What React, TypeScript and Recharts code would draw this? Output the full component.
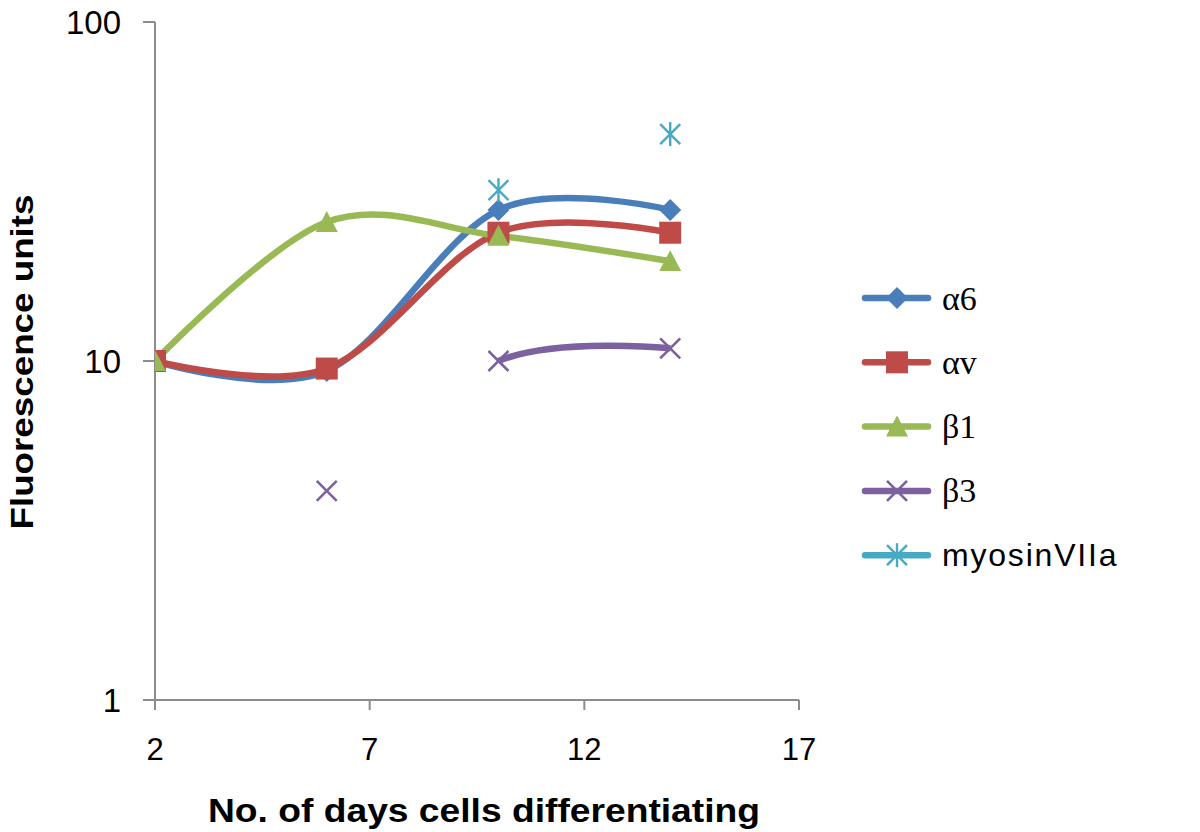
import React from 'react';
import { LineChart, Line, XAxis, YAxis } from 'recharts';

const days = [2, 6, 10, 14];
const alpha6 = [10, 9.35, 27.9, 27.9];
const alphaV = [10, 9.5, 23.9, 23.9];
const beta1 = [10, 25.7, 23.4, 19.7];
const beta3 = [null, 4.14, 10, 10.9];
const myosin = [null, null, 31.9, 46.7];

const xTicks = [2, 7, 12, 17];
const yTicks = [1, 10, 100];

const COLORS = {
  a6: '#4A7EBB',
  av: '#BE4B48',
  b1: '#98B954',
  b3: '#7D60A0',
  my: '#46AAC5',
};

const data = days.map((d, i) => ({
  day: d,
  a6: alpha6[i],
  av: alphaV[i],
  b1: beta1[i],
  b3: beta3[i],
  my: myosin[i],
}));

// Catmull-Rom / cardinal curve (Excel-like smoothing)
function cardinalPoint(that: any, x: number, y: number) {
  that._context.bezierCurveTo(
    that._x1 + that._k * (that._x2 - that._x0),
    that._y1 + that._k * (that._y2 - that._y0),
    that._x2 + that._k * (that._x1 - x),
    that._y2 + that._k * (that._y1 - y),
    that._x2,
    that._y2
  );
}
class Cardinal {
  _context: any; _k: number; _line: number = NaN; _point = 0; _skipFirst: boolean;
  _x0 = NaN; _x1 = NaN; _x2 = NaN; _y0 = NaN; _y1 = NaN; _y2 = NaN;
  constructor(context: any, skipFirst: boolean) { this._context = context; this._k = 1 / 6; this._skipFirst = skipFirst; }
  areaStart() { this._line = 0; }
  areaEnd() { this._line = NaN; }
  lineStart() {
    this._x0 = this._x1 = this._x2 = this._y0 = this._y1 = this._y2 = NaN;
    this._point = 0;
  }
  lineEnd() {
    switch (this._point) {
      case 2: this._context.lineTo(this._x2, this._y2); break;
      case 3: cardinalPoint(this, this._x1, this._y1); break;
    }
    if (this._line || (this._line !== 0 && this._point === 1)) this._context.closePath();
    this._line = 1 - this._line;
  }
  point(x: number, y: number) {
    x = +x; y = +y;
    switch (this._point) {
      case 0: this._point = 1; this._line ? this._context.lineTo(x, y) : this._context.moveTo(x, y); break;
      case 1: this._point = 2; this._x1 = x; this._y1 = y; break;
      case 2:
        this._point = 3;
        if (this._skipFirst) this._context.moveTo(this._x2, this._y2);
        else cardinalPoint(this, x, y);
        break;
      default: cardinalPoint(this, x, y); break;
    }
    this._x0 = this._x1; this._x1 = this._x2; this._x2 = x;
    this._y0 = this._y1; this._y1 = this._y2; this._y2 = y;
  }
}
const smooth: any = (context: any) => new Cardinal(context, false);
// same smoothing, but the first segment of the run is left undrawn
const smoothSkipFirst: any = (context: any) => new Cardinal(context, true);

type MarkerKind = 'diamond' | 'square' | 'triangle' | 'x' | 'star';

function Marker({ kind, cx, cy, color }: { kind: MarkerKind; cx: number; cy: number; color: string }) {
  if (kind === 'diamond') {
    const r = 11;
    return <polygon points={`${cx},${cy - r} ${cx + r},${cy} ${cx},${cy + r} ${cx - r},${cy}`} fill={color} />;
  }
  if (kind === 'square') {
    const r = 11;
    return <rect x={cx - r} y={cy - r} width={2 * r} height={2 * r} fill={color} />;
  }
  if (kind === 'triangle') {
    const r = 11;
    return <polygon points={`${cx},${cy - r} ${cx + r},${cy + r * 0.9} ${cx - r},${cy + r * 0.9}`} fill={color} />;
  }
  if (kind === 'x') {
    const r = 10;
    return (
      <g stroke={color} strokeWidth={2.6}>
        <line x1={cx - r} y1={cy - r} x2={cx + r} y2={cy + r} />
        <line x1={cx - r} y1={cy + r} x2={cx + r} y2={cy - r} />
      </g>
    );
  }
  const r = 10;
  return (
    <g stroke={color} strokeWidth={2.4}>
      <line x1={cx - r} y1={cy - r} x2={cx + r} y2={cy + r} />
      <line x1={cx - r} y1={cy + r} x2={cx + r} y2={cy - r} />
      <line x1={cx} y1={cy - r * 1.2} x2={cx} y2={cy + r * 1.2} />
    </g>
  );
}

const makeDot = (kind: MarkerKind, color: string) => (props: any) => {
  const { cx, cy, index, value } = props;
  if (cx == null || cy == null || value == null || isNaN(cy)) return <g key={`e-${kind}-${index}`} />;
  return (
    <g key={`d-${kind}-${index}`}>
      <Marker kind={kind} cx={cx} cy={cy} color={color} />
    </g>
  );
};

const legendItems: { name: string; kind: MarkerKind; color: string; serif: boolean }[] = [
  { name: 'α6', kind: 'diamond', color: COLORS.a6, serif: true },
  { name: 'αv', kind: 'square', color: COLORS.av, serif: true },
  { name: 'β1', kind: 'triangle', color: COLORS.b1, serif: true },
  { name: 'β3', kind: 'x', color: COLORS.b3, serif: true },
  { name: 'myosinVIIa', kind: 'star', color: COLORS.my, serif: false },
];

const LegendBox = () => (
  <svg width={320} height={330} style={{ position: 'absolute', left: 850, top: 266 }}>
    {legendItems.map((it, i) => {
      const cy = 32 + i * 64.3;
      return (
        <g key={it.name}>
          <line x1={15} x2={78} y1={cy} y2={cy} stroke={it.color} strokeWidth={6.5} strokeLinecap="round" />
          <Marker kind={it.kind} cx={47} cy={cy} color={it.color} />
          <text
            x={92}
            y={cy}
            dominantBaseline="central"
            fontSize={it.serif ? 34 : 32}
            fontFamily={it.serif ? '"Liberation Serif", "DejaVu Serif", serif' : '"Liberation Sans", Arial, sans-serif'}
            letterSpacing={it.serif ? 0 : 1.8}
            fill="#000"
          >
            {it.name}
          </text>
        </g>
      );
    })}
  </svg>
);

const SANS = '"Liberation Sans", Arial, Helvetica, sans-serif';
const AXIS = '#8c8c8c';

export default function App() {
  return (
    <div style={{ position: 'absolute', left: 0, top: 0, width: 1200, height: 832, background: '#fff' }}>
      <LineChart
        width={1200}
        height={832}
        data={data}
        margin={{ top: 22, right: 401, bottom: 0, left: 0 }}
      >
        <XAxis
          dataKey="day"
          type="number"
          domain={[2, 17]}
          ticks={xTicks}
          interval={0}
          allowDataOverflow
          height={132}
          tickSize={10}
          tickMargin={28}
          axisLine={{ stroke: AXIS, strokeWidth: 2 }}
          tickLine={{ stroke: AXIS, strokeWidth: 2 }}
          tick={{ fill: '#000', fontSize: 31, fontFamily: SANS }}
          label={{
            content: () => (
              <text
                x={484}
                y={822}
                textAnchor="middle"
                fontSize={34}
                fontWeight="bold"
                fontFamily={SANS}
                textLength={552}
                lengthAdjust="spacingAndGlyphs"
                fill="#000"
              >
                No. of days cells differentiating
              </text>
            ),
          }}
        />
        <YAxis
          scale="log"
          domain={[1, 100]}
          ticks={yTicks}
          interval={0}
          allowDataOverflow
          width={155}
          tickSize={12}
          tickMargin={22}
          axisLine={{ stroke: AXIS, strokeWidth: 2 }}
          tickLine={{ stroke: AXIS, strokeWidth: 2 }}
          tick={{ fill: '#000', fontSize: 33, fontFamily: SANS }}
          label={{
            content: () => (
              <text
                x={22}
                y={362}
                transform="rotate(-90 22 362)"
                textAnchor="middle"
                dominantBaseline="central"
                fontSize={31}
                fontWeight="bold"
                fontFamily={SANS}
                textLength={335}
                lengthAdjust="spacingAndGlyphs"
                fill="#000"
              >
                Fluorescence units
              </text>
            ),
          }}
        />
        <Line
          dataKey="a6"
          name="α6"
          type={smooth}
          stroke={COLORS.a6}
          strokeWidth={6.5}
          dot={makeDot('diamond', COLORS.a6)}
          activeDot={false}
          isAnimationActive={false}
        />
        <Line
          dataKey="av"
          name="αv"
          type={smooth}
          stroke={COLORS.av}
          strokeWidth={6.5}
          dot={makeDot('square', COLORS.av)}
          activeDot={false}
          isAnimationActive={false}
        />
        <Line
          dataKey="b1"
          name="β1"
          type={smooth}
          stroke={COLORS.b1}
          strokeWidth={6.5}
          dot={makeDot('triangle', COLORS.b1)}
          activeDot={false}
          isAnimationActive={false}
        />
        <Line
          dataKey="b3"
          name="β3"
          type={smoothSkipFirst}
          stroke={COLORS.b3}
          strokeWidth={6.5}
          dot={makeDot('x', COLORS.b3)}
          activeDot={false}
          connectNulls={false}
          isAnimationActive={false}
        />
        <Line
          dataKey="my"
          name="myosinVIIa"
          stroke="none"
          dot={makeDot('star', COLORS.my)}
          activeDot={false}
          isAnimationActive={false}
        />
      </LineChart>
      <LegendBox />
    </div>
  );
}
